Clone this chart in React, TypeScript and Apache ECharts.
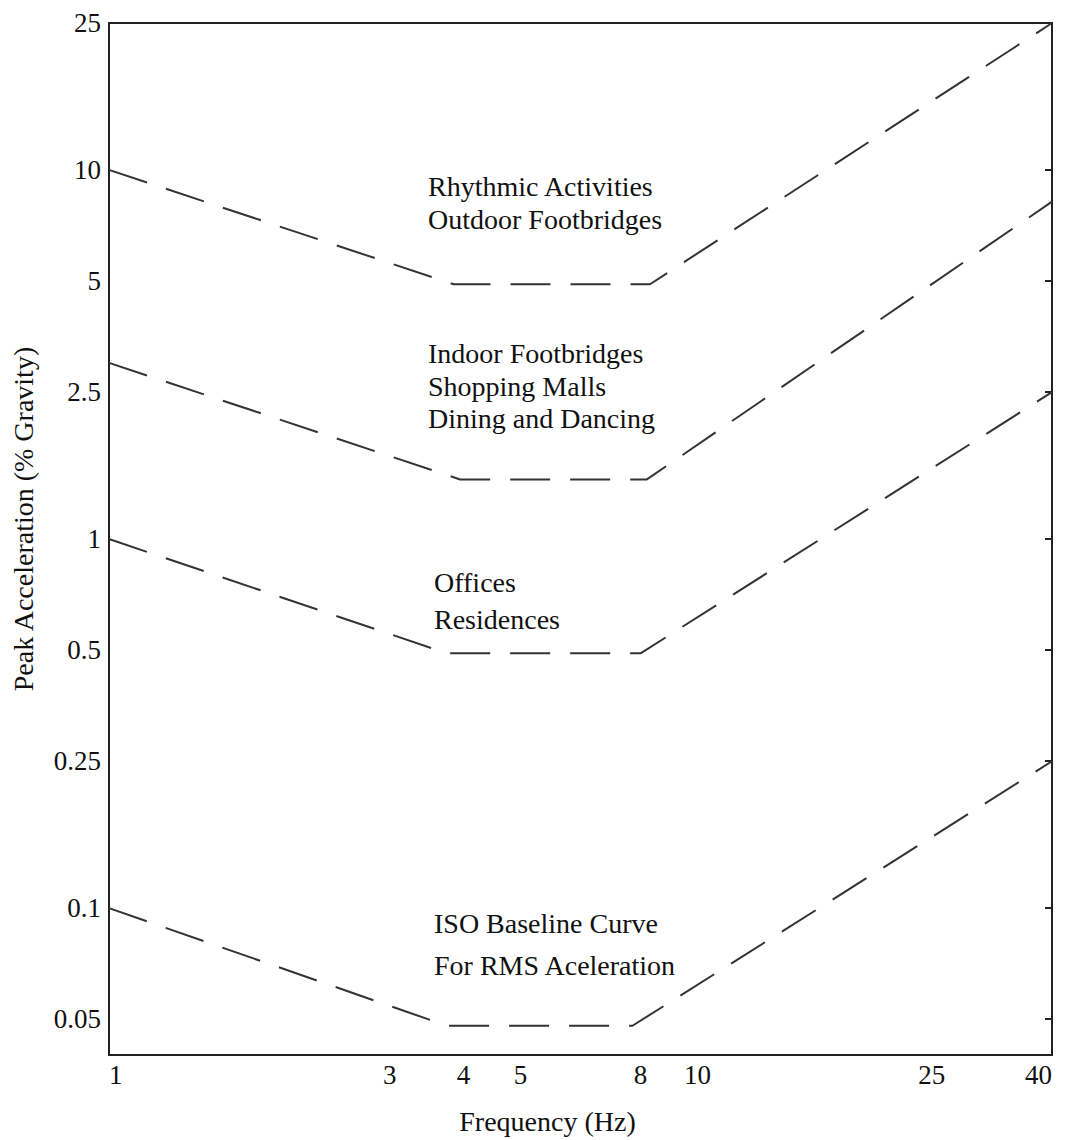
import { useEffect, useRef } from "react";
import * as echarts from "echarts";

// Axis tick values (log–log chart)
const freqTicks = [1, 3, 4, 5, 8, 10, 25, 40];
const accelTicks = [0.05, 0.1, 0.25, 0.5, 1, 2.5, 5, 10, 25];
const rightTicks = [0.05, 0.1, 0.25, 0.5, 1, 2.5, 5, 10];

// Acceleration limit curves: frequency (Hz) and peak acceleration (% g)
const rhythmicFreq = [1, 3.85, 8.3, 40];
const rhythmicAccel = [10, 4.9, 4.9, 25];
const indoorFreq = [1, 3.95, 8.2, 40];
const indoorAccel = [3, 1.45, 1.45, 8.2];
const officeFreq = [1, 3.75, 8.0, 40];
const officeAccel = [1, 0.49, 0.49, 2.5];
const isoFreq = [1, 3.75, 7.75, 40];
const isoAccel = [0.1, 0.048, 0.048, 0.25];

// Curve captions
const rhythmicText = ["Rhythmic Activities", "Outdoor Footbridges"];
const indoorText = ["Indoor Footbridges", "Shopping Malls", "Dining and Dancing"];
const officeText = ["Offices", "Residences"];
const isoText = ["ISO Baseline Curve", "For RMS Aceleration"];

const FONT = "'Liberation Serif', 'Times New Roman', serif";
const INK = "#222";

function pairs(xs: number[], ys: number[]) {
  return xs.map((x, i) => [x, ys[i]]);
}

function captionBlock(lines: string[], x: number, ys: number[]) {
  return lines.map((t, i) => ({
    type: "text",
    x,
    y: ys[i],
    silent: true,
    style: {
      text: t,
      fill: "#111",
      font: `28px ${FONT}`,
      align: "left",
      verticalAlign: "middle",
    },
  }));
}

export default function App() {
  const ref = useRef<HTMLDivElement>(null);

  useEffect(() => {
    if (!ref.current) return;
    const chart = echarts.init(ref.current, null, { renderer: "svg" });

    const curve = (name: string, xs: number[], ys: number[]) => ({
      name,
      type: "line",
      data: pairs(xs, ys),
      symbol: "none",
      silent: true,
      xAxisIndex: 0,
      yAxisIndex: 0,
      lineStyle: { color: "#333", width: 2, type: [40, 20] },
    });

    chart.setOption({
      animation: false,
      backgroundColor: "#ffffff",
      textStyle: { fontFamily: FONT },
      grid: {
        left: 109,
        right: 16,
        top: 23,
        bottom: 78,
        show: true,
        borderColor: INK,
        borderWidth: 2,
        backgroundColor: "transparent",
      },
      xAxis: [
        {
          type: "log",
          logBase: 10,
          min: 1,
          max: 40,
          name: "Frequency (Hz)",
          nameLocation: "middle",
          nameGap: 52,
          nameTextStyle: {
            fontFamily: FONT,
            fontSize: 28,
            color: "#111",
            padding: [0, 66, 0, 0],
          },
          axisLine: { show: false },
          axisTick: { show: false },
          splitLine: { show: false },
          axisLabel: {
            customValues: freqTicks,
            fontFamily: FONT,
            fontSize: 27,
            color: "#111",
            margin: 6,
            alignMinLabel: "left",
            alignMaxLabel: "right",
            formatter: (v: number) => String(Math.round(v * 100) / 100),
          },
        },
      ],
      yAxis: [
        {
          type: "log",
          logBase: 10,
          min: 0.04,
          max: 25,
          position: "left",
          name: "Peak Acceleration (% Gravity)",
          nameLocation: "middle",
          nameGap: 72,
          nameTextStyle: {
            fontFamily: FONT,
            fontSize: 28,
            color: "#111",
            padding: [0, 0, 0, 40],
          },
          axisLine: { show: false },
          axisTick: { show: false },
          splitLine: { show: false },
          axisLabel: {
            customValues: accelTicks,
            fontFamily: FONT,
            fontSize: 27,
            color: "#111",
            margin: 8,
            formatter: (v: number) => String(Math.round(v * 1000) / 1000),
          },
        },
        {
          type: "log",
          logBase: 10,
          min: 0.04,
          max: 25,
          position: "right",
          axisLine: { show: false },
          splitLine: { show: false },
          axisLabel: { show: false },
          axisTick: {
            show: true,
            inside: true,
            length: 7,
            customValues: rightTicks,
            lineStyle: { color: INK, width: 2 },
          },
        },
      ],
      series: [
        curve("Rhythmic Activities / Outdoor Footbridges", rhythmicFreq, rhythmicAccel),
        curve("Indoor Footbridges / Shopping Malls / Dining and Dancing", indoorFreq, indoorAccel),
        curve("Offices / Residences", officeFreq, officeAccel),
        curve("ISO Baseline Curve", isoFreq, isoAccel),
      ],
      graphic: [
        ...captionBlock(rhythmicText, 428, [186, 219]),
        ...captionBlock(indoorText, 428, [353, 386, 418]),
        ...captionBlock(officeText, 434, [582, 619]),
        ...captionBlock(isoText, 434, [923, 965]),
      ],
    });

    return () => chart.dispose();
  }, []);

  return (
    <div
      ref={ref}
      style={{ position: "absolute", left: 0, top: 0, width: 1068, height: 1140 }}
    />
  );
}
